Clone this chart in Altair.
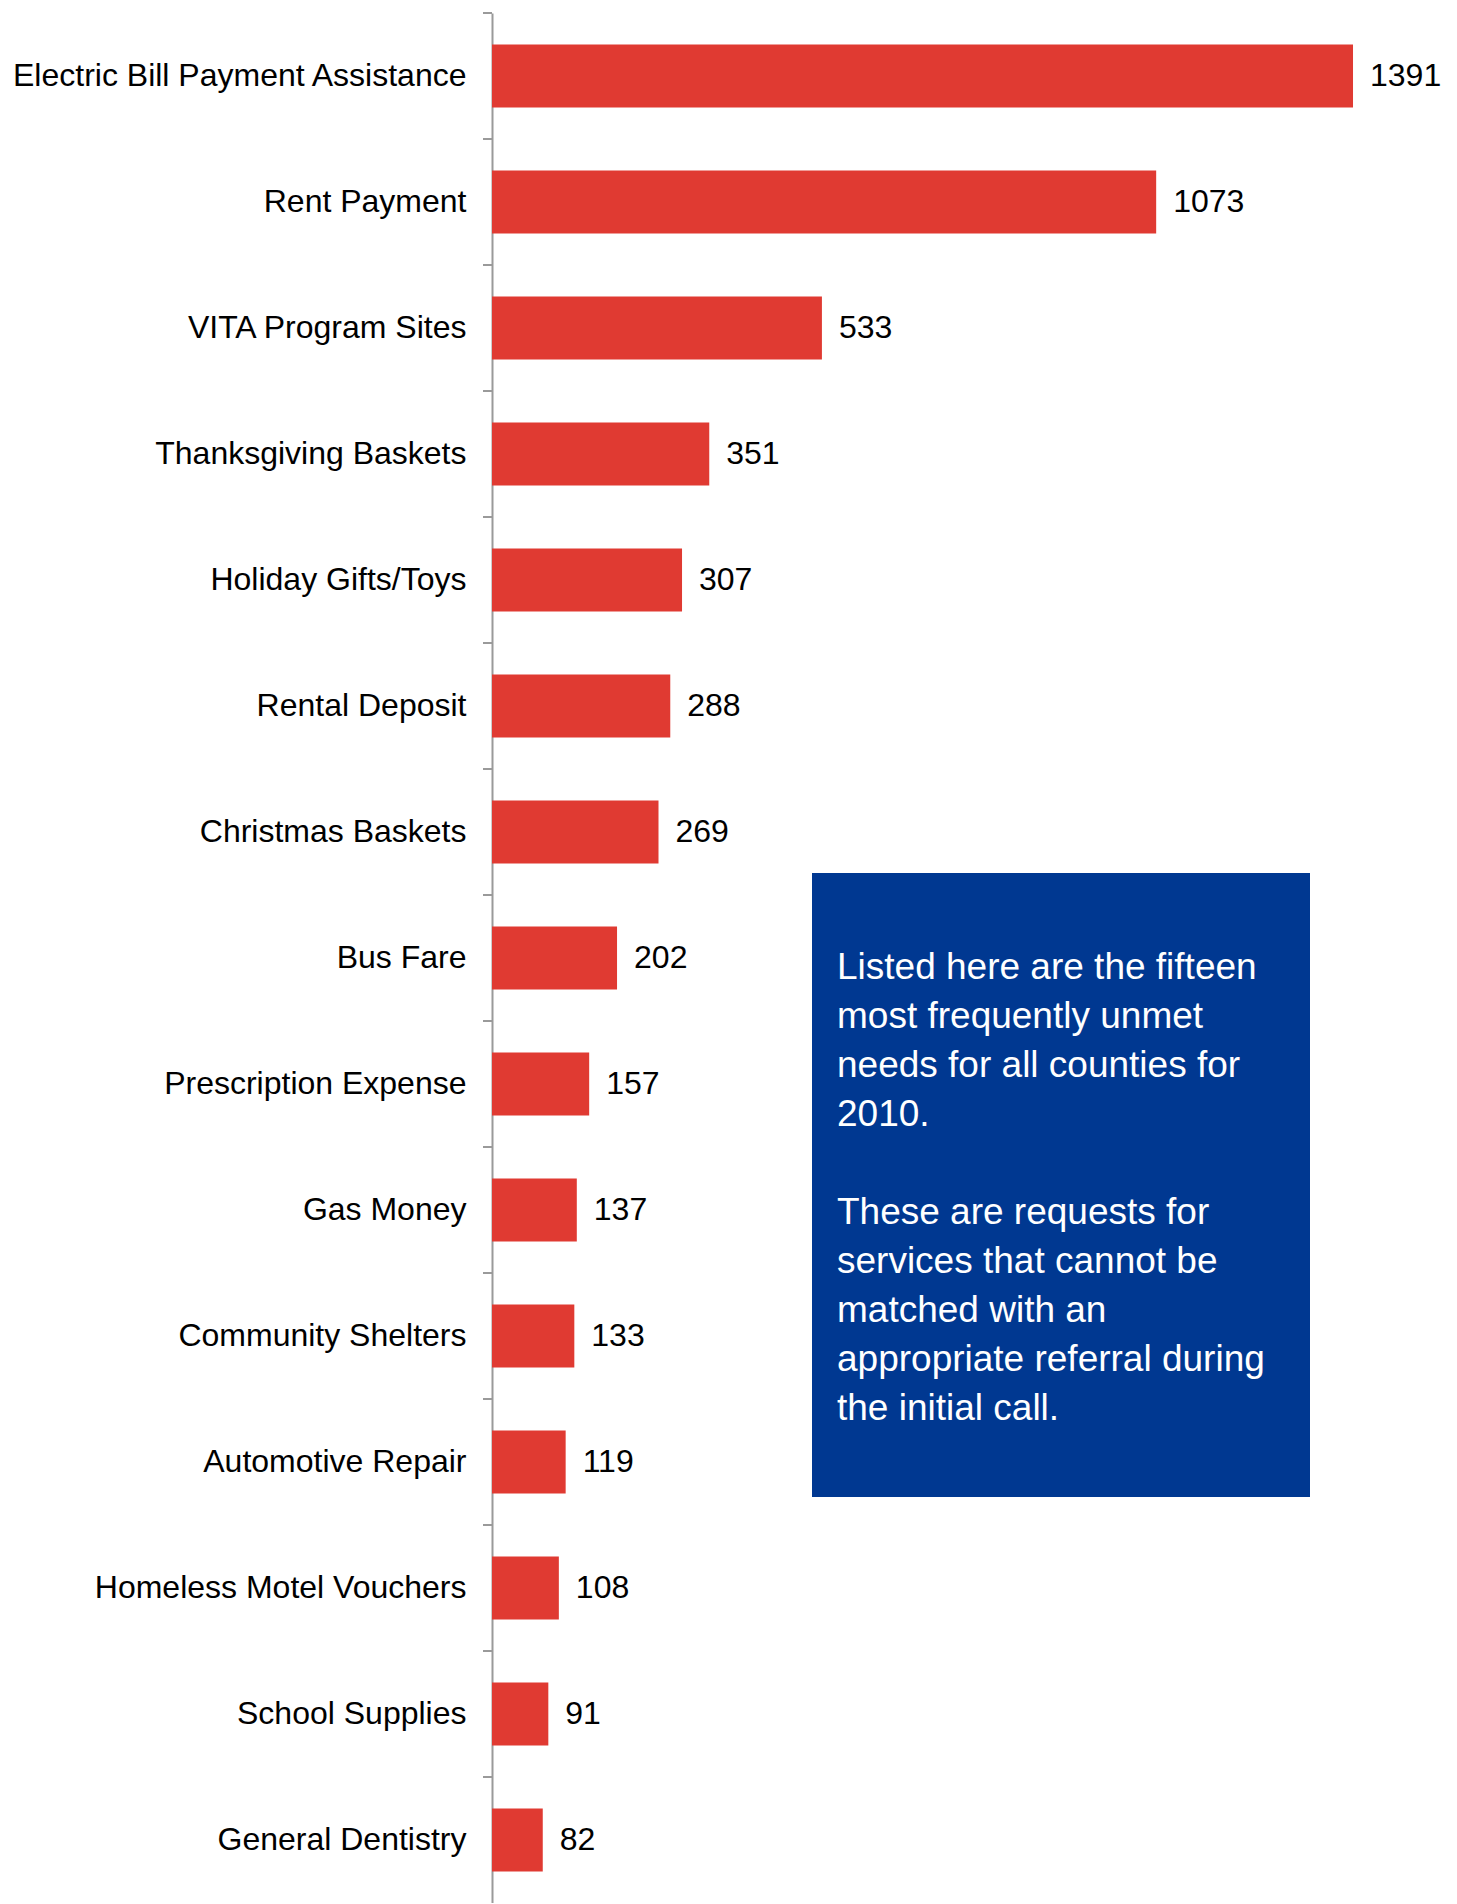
import altair as alt
import pandas as pd

categories = [
    "Electric Bill Payment Assistance", "Rent Payment", "VITA Program Sites",
    "Thanksgiving Baskets", "Holiday Gifts/Toys", "Rental Deposit",
    "Christmas Baskets", "Bus Fare", "Prescription Expense", "Gas Money",
    "Community Shelters", "Automotive Repair", "Homeless Motel Vouchers",
    "School Supplies", "General Dentistry",
]
values = [1391, 1073, 533, 351, 307, 288, 269, 202, 157, 137, 133, 119, 108, 91, 82]
note_par1 = [
    "Listed here are the fifteen",
    "most frequently unmet",
    "needs for all counties for",
    "2010.",
]
note_par2 = [
    "These are requests for",
    "services that cannot be",
    "matched with an",
    "appropriate referral during",
    "the initial call.",
]

df = pd.DataFrame({"need": categories, "count": values})

W, H = 965, 1890
FONT = "Liberation Sans"
AXIS_GRAY = "#9a9a9a"
LINE_H = 49

y_scale = alt.Scale(paddingInner=0.5, paddingOuter=0.25)
y_enc = alt.Y(
    "need:N", sort=categories, scale=y_scale,
    axis=alt.Axis(
        title=None, labelFont=FONT, labelFontSize=32, labelColor="#000000",
        labelPadding=26, ticks=False,
        domainColor=AXIS_GRAY, domainWidth=2,
        labelLimit=0, grid=False,
    ),
)
x_enc = alt.X("count:Q", scale=alt.Scale(domain=[0, 1559], nice=False, zero=True), axis=None)

bars = alt.Chart(df).mark_bar(color="#E03A32").encode(x=x_enc, y=y_enc)
labels = alt.Chart(df).mark_text(
    align="left", baseline="middle", dx=17, font=FONT, fontSize=32, color="#000000"
).encode(x=x_enc, y=alt.Y("need:N", sort=categories), text=alt.Text("count:Q", format="d"))

# category-boundary ticks on the left of the axis line
ticks = alt.Chart(df).mark_rule(color=AXIS_GRAY, strokeWidth=2, yOffset=-63).encode(
    y=alt.Y("need:N", sort=categories), x=alt.value(-9), x2=alt.value(0)
)

one = pd.DataFrame({"k": [0]})
box = alt.Chart(one).mark_rect(color="#003891").encode(
    x=alt.value(320), x2=alt.value(818), y=alt.value(860), y2=alt.value(1484)
)
note1 = alt.Chart(one).mark_text(
    text=note_par1, align="left", baseline="alphabetic", lineHeight=LINE_H,
    font=FONT, fontSize=37, color="#ffffff",
).encode(x=alt.value(345), y=alt.value(966))
note2 = alt.Chart(one).mark_text(
    text=note_par2, align="left", baseline="alphabetic", lineHeight=LINE_H,
    font=FONT, fontSize=37, color="#ffffff",
).encode(x=alt.value(345), y=alt.value(966 + 5 * LINE_H))

chart = alt.layer(bars, labels, ticks, box, note1, note2).properties(
    width=W, height=H,
    background="white",
    autosize=alt.AutoSizeParams(type="none"),
    padding={"left": 492, "top": 13, "right": 0, "bottom": 0},
).configure_view(stroke=None)

chart.save("out.html", embed_options={"renderer": "svg", "actions": False})
